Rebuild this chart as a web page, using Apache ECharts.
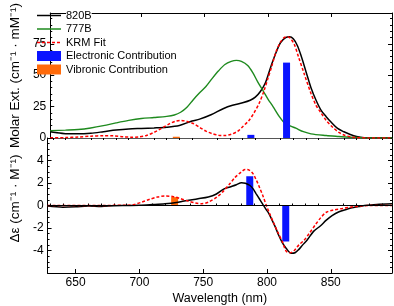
<!DOCTYPE html>
<html><head><meta charset="utf-8">
<script src="https://cdn.jsdelivr.net/npm/echarts@6/dist/echarts.min.js"></script>
<style>html,body{margin:0;padding:0;background:#fff}#c{width:394px;height:306px}</style>
</head><body><div id="c"></div>
<script>
// ---- Data ----
const absBlackX = [628,632,640,650,660,670,680,690,700,710,720,730,740,746,755,765,772,780,786,790,794,798,802,806,810,814,817,820,823,826,830,834,838,842,846,850,855,860,865,870,876,885,898];
const absBlackY = [5.0,4.3,3.4,3.3,3.8,5.0,6.3,7.2,7.6,8.0,8.6,10.0,13.5,15.0,18.5,23.5,26,28,30,32.5,37,44,56,67,76,79.8,80.5,79,74,66,53,40,30,22,17,12.5,7.6,5,2.8,1.2,0.3,0.1,0.1];
const absGreenX = [628,640,650,660,670,680,690,700,710,720,726,731,736,741,746,751,756,761,766,771,775,779,784,788,792,796.5,800,804,809,813,818,822,828,834,846,856,864,875,898];
const absGreenY = [5.8,6.3,6.8,8.0,9.8,12.0,14.0,15.5,16.3,17.2,18.3,20.5,24.5,30.5,36,41,47.5,53.5,58.5,61,61.8,61,57.7,52,44.5,37,31,25,17,12,9.5,7.8,5,3.3,2,1.2,0.6,0.2,0.1];
const absFitX = [628,640,650,660,670,678,686,692,698,704,710,716,722,727,731,736,741,746,751,756,761,766,771,776,780,785,789,793,796.5,800,803,806.5,810,813,815.5,818,821,824,829,834,838,841.5,846,851.5,856,861,866,870,880,898];
const absFitY = [0.1,0.3,0.8,1.4,1.8,1.7,1.0,0.6,0.9,2.0,4.5,7.8,11.2,13.4,14.0,13.2,11.5,8.5,5.5,3.4,2.2,2.0,3.0,5.3,9,14,20,27.5,36.5,47.5,57,69,76.5,80,80.5,79,74,65,50,35.4,26,20.6,14,8.2,4.5,2,0.8,0.3,0.05,0];

const cdBlackX = [628,640,650,660,670,680,690,700,710,720,729,735,746,754,760,766,771,776,780,783,786.4,789,791.4,794,796.5,799,801.4,804,806.5,809,812,815,819,822,825,828,831.5,836.5,842,846.5,851,856.5,862,866.5,872,876.5,886,898];
const cdBlackY = [-0.05,-0.15,-0.12,-0.05,-0.08,-0.02,0,0.02,0.08,0.15,0.26,0.4,0.6,0.76,1.0,1.45,1.65,1.85,2.03,1.98,1.8,1.5,1.06,0.6,0.15,-0.3,-0.7,-1.3,-1.9,-2.6,-3.3,-3.8,-4.25,-4.2,-3.9,-3.5,-3.07,-2.3,-1.8,-1.3,-0.9,-0.56,-0.35,-0.2,-0.1,0,0.1,0.15];
const cdFitX = [628,690,696,702,708,714,720,726,732,738,744,749,754,761,766,771,775,779,783,786,789,791.5,794,797,799.5,802,805,809,812,815,818,821,825,829,833,838,842,846.5,852,859,865,871.5,880,898];
const cdFitY = [0,0.02,0.1,0.3,0.55,0.75,0.84,0.8,0.62,0.4,0.22,0.16,0.3,0.77,1.3,1.95,2.5,2.9,3.2,3.15,2.83,2.3,1.65,0.8,0,-0.7,-1.5,-2.5,-3.2,-4.05,-4.2,-4.05,-3.5,-3.1,-2.5,-1.7,-1.1,-0.6,-0.4,-0.27,-0.15,-0.06,0,0];

const elecX = [786.5, 814.7];
const elecAbs = [2.5, 60];
const elecCD = [2.6, -3.2];
const vibX = [727.6];
const vibAbs = [1.0];
const vibCD = [0.75];

const xMajor = [650, 700, 750, 800, 850];
const xMinor = [630,640,660,670,680,690,710,720,730,740,760,770,780,790,810,820,830,840,860,870,880,890];

// ---- helpers ----
const zip = (xs, ys) => xs.map((x, i) => [x, ys[i]]);
const FONT = 'Liberation Sans, Arial, sans-serif';
const XMIN = 628, XMAX = 898;

// legend icons: thin horizontal lines inside a 24x10 box (degenerate corner segments fix the bounding box)
const BOX = 'M0,0 L0,0 M24,10 L24,10 ';
const solidIcon = 'path://' + BOX + 'M0,4.25 L24,4.25 L24,5.75 L0,5.75 Z';
const dashIcon = 'path://' + BOX + [0, 5, 10, 15, 20].map(s => `M${s},4.25 L${s + 3},4.25 L${s + 3},5.75 L${s},5.75 Z`).join(' ');

const chart = echarts.init(document.getElementById('c'), null, {renderer: 'canvas'});

function xAx(grid, pos, opts) {
  return Object.assign({
    type: 'value', gridIndex: grid, position: pos, min: XMIN, max: XMAX,
    axisLine: {show: true, onZero: false, lineStyle: {color: '#000', width: 1}},
    axisTick: {show: false}, axisLabel: {show: false}, splitLine: {show: false}
  }, opts || {});
}
function yAx(grid, pos, min, max, interval, opts) {
  return Object.assign({
    type: 'value', gridIndex: grid, position: pos, min: min, max: max, interval: interval,
    axisLine: {show: true, onZero: false, lineStyle: {color: '#000', width: 1}},
    axisTick: {show: true, inside: true, length: 4, lineStyle: {color: '#000'}},
    minorTick: {show: true, splitNumber: 5, length: 2, lineStyle: {color: '#000'}},
    axisLabel: {show: false}, splitLine: {show: false}
  }, opts || {});
}

const option = {
  backgroundColor: '#fff',
  animation: false,
  textStyle: {fontFamily: FONT},
  grid: [
    {left: 33, right: 2, top: 4, height: 134},
    {left: 33, right: 2, top: 138, height: 135.3}
  ],
  legend: {
    orient: 'vertical', left: 37, top: 10, padding: 0, itemWidth: 24, itemHeight: 10, itemGap: 2.5,
    textStyle: {fontSize: 11, color: '#000', fontFamily: FONT, backgroundColor: '#fff'},
    data: [
      {name: '820B', icon: solidIcon}, {name: '777B', icon: solidIcon}, {name: 'KRM Fit', icon: dashIcon},
      {name: 'Electronic Contribution', icon: 'rect'},
      {name: 'Vibronic Contribution', icon: 'rect'}
    ]
  },
  xAxis: [
    xAx(0, 'bottom', {axisLine: {show: true, onZero: false, lineStyle: {color: '#555', width: 1}}}),
    xAx(0, 'top', {axisTick: {show: true, inside: true, length: 4, customValues: xMajor, lineStyle: {color: '#000'}}}),
    xAx(0, 'top', {axisLine: {show: false}, axisTick: {show: true, inside: true, length: 2, customValues: xMinor, lineStyle: {color: '#000'}}}),
    xAx(1, 'bottom', {
      axisTick: {show: true, inside: true, length: 4, customValues: xMajor, lineStyle: {color: '#000'}},
      axisLabel: {show: true, customValues: xMajor, margin: 4, color: '#000', fontSize: 12, fontFamily: FONT},
      name: 'Wavelength (nm)', nameLocation: 'middle', nameGap: 19,
      nameTextStyle: {fontSize: 12.5, color: '#000', fontFamily: FONT}
    }),
    xAx(1, 'bottom', {axisLine: {show: false}, axisTick: {show: true, inside: true, length: 2, customValues: xMinor, lineStyle: {color: '#000'}}})
  ],
  yAxis: [
    yAx(0, 'left', 0, 99.5, 25, {
      axisLabel: {show: true, margin: 4, color: '#000', fontSize: 12, fontFamily: FONT, showMaxLabel: false},
      name: 'Molar Ext. (cm⁻¹ · mM⁻¹)', nameLocation: 'middle', nameGap: 18,
      nameTextStyle: {fontSize: 13.5, color: '#000', fontFamily: FONT}
    }),
    yAx(0, 'right', 0, 99.5, 25),
    yAx(1, 'left', -6, 6, 2, {
      minorTick: {show: true, splitNumber: 4, length: 2, lineStyle: {color: '#000'}},
      axisLabel: {show: true, margin: 4, color: '#000', fontSize: 12, fontFamily: FONT, showMaxLabel: false, showMinLabel: false},
      name: 'Δε (cm⁻¹ · M⁻¹)', nameLocation: 'middle', nameGap: 18,
      nameTextStyle: {fontSize: 13.5, color: '#000', fontFamily: FONT, padding: [0, 0, 0, 14]}
    }),
    yAx(1, 'right', -6, 6, 2, {minorTick: {show: true, splitNumber: 4, length: 2, lineStyle: {color: '#000'}}})
  ],
  series: [
    {name: '820B', type: 'line', xAxisIndex: 0, yAxisIndex: 0, data: zip(absBlackX, absBlackY), symbol: 'none', smooth: 0.3, z: 2,
     lineStyle: {color: '#000', width: 1.5}, itemStyle: {color: '#000'}},
    {name: '777B', type: 'line', xAxisIndex: 0, yAxisIndex: 0, data: zip(absGreenX, absGreenY), symbol: 'none', smooth: 0.3, z: 2,
     lineStyle: {color: '#1e8a1e', width: 1.4}, itemStyle: {color: '#1e8a1e'}},
    {name: 'KRM Fit', type: 'line', xAxisIndex: 0, yAxisIndex: 0, data: zip(absFitX, absFitY), symbol: 'none', smooth: 0.3, z: 2,
     lineStyle: {color: '#ff0000', width: 1.5, type: [3, 2]}, itemStyle: {color: '#ff0000'}},
    {name: 'Electronic Contribution', type: 'bar', xAxisIndex: 0, yAxisIndex: 0, data: zip(elecX, elecAbs), barWidth: 7, barGap: '-100%', z: 3,
     itemStyle: {color: '#0a14ff'}},
    {name: 'Vibronic Contribution', type: 'bar', xAxisIndex: 0, yAxisIndex: 0, data: zip(vibX, vibAbs), barWidth: 7, barGap: '-100%', z: 3,
     itemStyle: {color: '#ff6a0a'}},

    {name: 'Electronic Contribution', type: 'bar', xAxisIndex: 3, yAxisIndex: 2, data: zip(elecX, elecCD), barWidth: 7, barGap: '-100%', z: 2,
     itemStyle: {color: '#0a14ff'}},
    {name: 'Vibronic Contribution', type: 'bar', xAxisIndex: 3, yAxisIndex: 2, data: zip(vibX, vibCD), barWidth: 7, barGap: '-100%', z: 2,
     itemStyle: {color: '#ff6a0a'}},
    {name: '820B', type: 'line', xAxisIndex: 3, yAxisIndex: 2, data: zip(cdBlackX, cdBlackY), symbol: 'none', smooth: 0.3, z: 3,
     lineStyle: {color: '#000', width: 1.5}, itemStyle: {color: '#000'},
     markLine: {silent: true, symbol: 'none', label: {show: false}, lineStyle: {color: '#000', width: 1, type: 'solid'}, data: [{yAxis: 0}]}},
    {name: 'KRM Fit', type: 'line', xAxisIndex: 3, yAxisIndex: 2, data: zip(cdFitX, cdFitY), symbol: 'none', smooth: 0.3, z: 4,
     lineStyle: {color: '#ff0000', width: 1.5, type: [3, 2]}, itemStyle: {color: '#ff0000'}}
  ]
};
chart.setOption(option);
</script></body></html>
